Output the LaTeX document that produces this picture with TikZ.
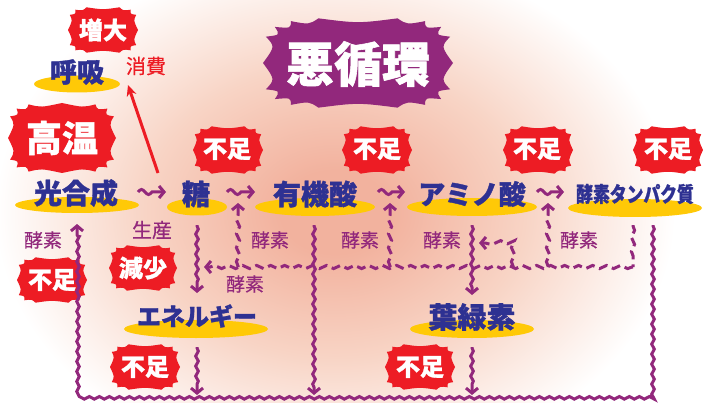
\documentclass[tikz,border=0pt]{standalone}
\usepackage{fontspec}
\usepackage{graphicx}
\setmainfont{Noto Sans CJK JP}[BoldFeatures={FakeBold=1.2}]
\newfontfamily\jpm{Noto Sans CJK JP}[FakeBold=0.5]
\usetikzlibrary{arrows.meta,decorations.pathmorphing,calc}
\definecolor{jred}{HTML}{ED1C24}
\definecolor{jpur}{HTML}{92287C}
\definecolor{jnavy}{HTML}{2E3192}
\definecolor{jyel}{HTML}{FFC907}
\definecolor{jsal}{RGB}{242,178,158}
\definecolor{jsalm}{RGB}{248,212,197}
\pgfdeclareradialshading{bgshade}{\pgfpoint{0bp}{0bp}}{color(0bp)=(jsal); color(4bp)=(jsal); color(14bp)=(jsalm); color(25bp)=(white); color(50bp)=(white)}
% burst: #1 name, #2 centre, #3 rx, #4 ry, #5 points, #6 colour
\newcommand\burst[6]{%
  \coordinate (#1) at (#2);
  \fill[#6, shift={(#2)}] (#3,0)
    \foreach \i [evaluate=\i as \a using \i*360/#5,
                 evaluate=\i as \b using (\i-0.5)*360/#5] in {1,...,#5}{
      .. controls ({0.88*#3*sign(cos(\b))*sqrt(abs(cos(\b)))},
                   {0.88*#4*sign(sin(\b))*sqrt(abs(sin(\b)))}) ..
      ({#3*sign(cos(\a))*sqrt(abs(cos(\a)))},
       {#4*sign(sin(\a))*sqrt(abs(sin(\a)))})
    } -- cycle;}
\tikzset{
  main/.style={text=jnavy, font=\bfseries\fontsize{28}{28}\selectfont, inner sep=0pt},
  burtxt/.style={text=white, font=\bfseries\fontsize{24}{24}\selectfont, inner sep=0pt},
  lab/.style={text=jpur, font=\jpm\fontsize{19}{19}\selectfont, inner sep=0pt},
  ell/.style={fill=jyel},
  tip/.style={-{Straight Barb[length=5pt,width=12pt]}},
  wave/.style={draw=jpur, line width=3pt, decorate,
    decoration={snake, segment length=10pt, amplitude=1.3pt, pre length=1pt, post length=6pt}},
  dwave/.style={draw=jpur, line width=3pt, dash pattern=on 9pt off 5pt, decorate,
    decoration={snake, segment length=14pt, amplitude=1.6pt, pre length=1pt, post length=6pt}},
  sarr/.style={draw=jpur, line width=3pt, tip},
}
\begin{document}
\begin{tikzpicture}[x=1pt,y=-1pt]
\useasboundingbox (0,0) rectangle (703,403);
\begin{scope}
  \clip (0,0) rectangle (703,403);
  \fill[white] (0,0) rectangle (703,403);
  \shade[shading=bgshade] (335,212) ellipse [x radius=340, y radius=260];
\end{scope}

% yellow ellipses
\fill[ell] (77,84) ellipse [x radius=43, y radius=8.5];
\fill[ell] (77,205) ellipse [x radius=62, y radius=8];
\fill[ell] (197,207) ellipse [x radius=30, y radius=8.5];
\fill[ell] (315,207) ellipse [x radius=60, y radius=9];
\fill[ell] (472,207) ellipse [x radius=65, y radius=9];
\fill[ell] (635,208) ellipse [x radius=67, y radius=9];
\fill[ell] (196,329) ellipse [x radius=72, y radius=9];
\fill[ell] (472,329) ellipse [x radius=62, y radius=9];

% bursts
\burst{bz}{103,30}{35}{23}{14}{jred}
\node[burtxt] (zoudai) at (103,30) {増大};
\burst{bk}{62,138}{54}{35}{16}{jred}
\node[burtxt, font=\bfseries\fontsize{36}{36}\selectfont] (kouon) at (62,138) {高温};
\burst{ba}{358,63}{95}{45}{18}{jpur}
\node[burtxt, font=\bfseries\fontsize{48}{48}\selectfont] (aku) at (358,64) {悪循環};
\burst{bf1}{228,150}{35}{24}{14}{jred}
\node[burtxt] (f1) at (227,149) {不足};
\burst{bf2}{377,150}{35}{24}{14}{jred}
\node[burtxt] (f2) at (377,149) {不足};
\burst{bf3}{538,150}{35}{24}{14}{jred}
\node[burtxt] (f3) at (537,149) {不足};
\burst{bf4}{668,150}{35}{24}{14}{jred}
\node[burtxt] (f4) at (668,149) {不足};
\burst{bg}{143,268}{34}{23}{14}{jred}
\node[burtxt] (gen) at (143,268) {減少};
\burst{bfl}{52,280}{35}{23}{14}{jred}
\node[burtxt] (fl) at (52,280) {不足};
\burst{bfe}{145,367}{35}{23}{14}{jred}
\node[burtxt] (fe) at (145,367) {不足};
\burst{bfy}{420,367}{35}{23}{14}{jred}
\node[burtxt] (fy) at (420,367) {不足};

% main texts
\node[main, font=\bfseries\fontsize{27}{27}\selectfont] (kokyu) at (77,72) {呼吸};
\node[main] (kgs) at (76,193) {光合成};
\node[main] (tou) at (196,194) {糖};
\node[main] (yuki) at (315,194) {有機酸};
\node[main, font=\bfseries\fontsize{27}{27}\selectfont] (amino) at (472,194) {アミノ酸};
\node[main, font=\bfseries\fontsize{21}{21}\selectfont] (koso) at (635,194) {\scalebox{0.8}[1]{酵素タンパク質}};
\node[main, font=\bfseries\fontsize{24}{24}\selectfont] (ene) at (197,316) {エネルギー};
\node[main, font=\bfseries\fontsize{29}{29}\selectfont] (ryoku) at (472,317) {葉緑素};

% labels
\node[lab, text=jred, font=\jpm\fontsize{20}{20}\selectfont] (shohi) at (146,66) {消費};
\node[lab, font=\jpm\fontsize{20}{20}\selectfont] (seisan) at (152,230) {生産};
\node[lab] (k1) at (43,240) {酵素};
\node[lab] (k2) at (270,240) {酵素};
\node[lab] (k3) at (360,240) {酵素};
\node[lab] (k4) at (442,240) {酵素};
\node[lab] (k5) at (579,240) {酵素};
\node[lab] (k6) at (245,284) {酵素};

% red arrow: consumption towards respiration
\coordinate (rs) at (158,173);
\coordinate (re) at (128,85);
\draw[jred, line width=3pt, -{Stealth[length=11pt,width=10pt]}] (rs) -- (re);

% short wavy arrows between main nodes
\coordinate (s1a) at (138,192); \coordinate (s1b) at (166,192);
\coordinate (s2a) at (227,192); \coordinate (s2b) at (255,192);
\coordinate (s3a) at (378,192); \coordinate (s3b) at (405,192);
\coordinate (s4a) at (537,192); \coordinate (s4b) at (564,192);
\foreach \p in {s1,s2,s3,s4}{
  \draw[sarr] (\p a) sin ++(3.5,-2.5) cos ++(3.5,2.5) sin ++(3.5,2.5) cos ++(3.5,-2.5) -- (\p b);
}

% dashed enzyme network
\coordinate (d1) at (238,267); \coordinate (d1t) at (238,203);
\coordinate (d2) at (390,267); \coordinate (d2t) at (390,203);
\coordinate (d3) at (548,267); \coordinate (d3t) at (548,203);
\coordinate (d4) at (633,225); \coordinate (d4c) at (633,267);
\coordinate (dl) at (204,267);
\coordinate (db) at (513,267); \coordinate (dbc) at (513,243); \coordinate (dbt) at (479,243);
\draw[dwave, tip] (d1) -- (d1t);
\draw[dwave, tip] (d2) -- (d2t);
\draw[dwave, tip] (d3) -- (d3t);
\draw[dwave] (d4) -- (d4c);
\draw[dwave, tip] (d4c) -- (dl);
\draw[dwave, tip] (db) -- (dbc) -- (dbt);

% solid wavy network
\coordinate (v1a) at (197,225); \coordinate (v1b) at (197,293);
\coordinate (v1c) at (197,347); \coordinate (v1d) at (197,395);
\coordinate (v2a) at (314,225); \coordinate (v2b) at (314,395);
\coordinate (v3a) at (472,225); \coordinate (v3b) at (472,295);
\coordinate (v3c) at (472,347); \coordinate (v3d) at (472,395);
\coordinate (ra) at (653,225); \coordinate (rb) at (653,398);
\coordinate (lb) at (77,398); \coordinate (la) at (77,224);
\draw[wave, tip] (v1a) -- (v1b);
\draw[wave, tip] (v1c) -- (v1d);
\draw[wave, tip] (v2a) -- (v2b);
\draw[wave, tip] (v3a) -- (v3b);
\draw[wave, tip] (v3c) -- (v3d);
\draw[wave, tip] (ra) -- (rb) -- (lb) -- (la);
\end{tikzpicture}
\end{document}
